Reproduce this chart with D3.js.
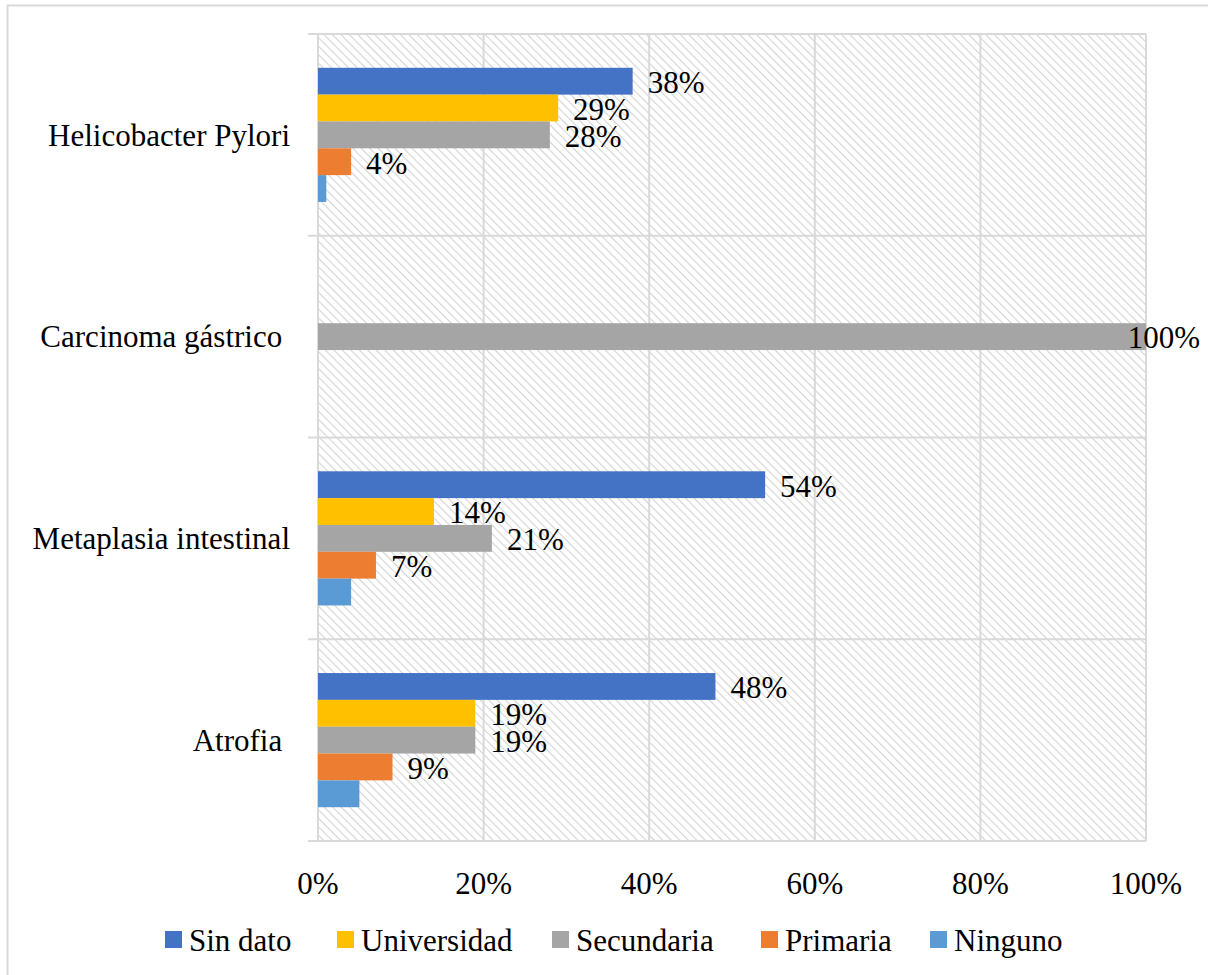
<!DOCTYPE html>
<html><head><meta charset="utf-8">
<script src="https://cdn.jsdelivr.net/npm/d3@7"></script>
<style>body{margin:0;background:#fff}svg{display:block}</style>
</head><body>
<script>
const categories = ["Helicobacter Pylori", "Carcinoma gástrico ", "Metaplasia intestinal", "Atrofia "];
const seriesNames = ["Sin dato", "Universidad", "Secundaria", "Primaria", "Ninguno"];
const seriesColors = ["#4472C4", "#FFC000", "#A5A5A5", "#ED7D31", "#5B9BD5"];
const sinDato     = [38, 0, 54, 48];
const universidad = [29, 0, 14, 19];
const secundaria  = [28, 100, 21, 19];
const primaria    = [4, 0, 7, 9];
const ninguno     = [1, 0, 4, 5];
const showLabel = {"Sin dato": true, "Universidad": true, "Secundaria": true, "Primaria": true, "Ninguno": false};
const xTicks = [0, 20, 40, 60, 80, 100];

const seriesValues = [sinDato, universidad, secundaria, primaria, ninguno];
const W = 1208, H = 975;
const svg = d3.select("body").append("svg").attr("width", W).attr("height", H);
const font = "'Liberation Serif','Times New Roman',serif";
const fs = 31;

// outer border
svg.append("rect").attr("x", 7.5).attr("y", 5.5).attr("width", W + 10).attr("height", H + 10)
  .attr("fill", "#fff").attr("stroke", "#d9d9d9").attr("stroke-width", 2);

const m = {left: 318, right: 1146, top: 34, bottom: 841};
const x = d3.scaleLinear().domain([0, 100]).range([m.left, m.right]);
const y0 = d3.scaleBand().domain(categories).range([m.top, m.bottom]).paddingInner(0).paddingOuter(0);
const groupH = y0.bandwidth() * 0.665;
const y1b = d3.scaleBand().domain(seriesNames).range([(y0.bandwidth() - groupH) / 2, (y0.bandwidth() + groupH) / 2]);

// hatch pattern
const defs = svg.append("defs");
const pat = defs.append("pattern").attr("id", "hatch").attr("patternUnits", "userSpaceOnUse")
  .attr("width", 6).attr("height", 6).attr("patternTransform", "rotate(-45)");
pat.append("rect").attr("width", 6).attr("height", 6).attr("fill", "#fff");
pat.append("line").attr("x1", 0).attr("y1", 0).attr("x2", 0).attr("y2", 6)
  .attr("stroke", "#d4d4d4").attr("stroke-width", 2.2);

svg.append("rect").attr("x", m.left).attr("y", m.top).attr("width", m.right - m.left)
  .attr("height", m.bottom - m.top).attr("fill", "url(#hatch)");

// vertical gridlines
svg.append("g").selectAll("line").data(xTicks).join("line")
  .attr("x1", d => x(d)).attr("x2", d => x(d)).attr("y1", m.top).attr("y2", m.bottom)
  .attr("stroke", "#d9d9d9").attr("stroke-width", 2);

// horizontal category boundaries
const bounds = categories.map(c => y0(c)).concat([m.bottom]);
svg.append("g").selectAll("line").data(bounds).join("line")
  .attr("x1", m.left - 10).attr("x2", m.right).attr("y1", d => d).attr("y2", d => d)
  .attr("stroke", "#d9d9d9").attr("stroke-width", 2);

// bars
const data = [];
categories.forEach((c, ci) => seriesNames.forEach((s, si) => {
  data.push({cat: c, ser: s, val: seriesValues[si][ci], color: seriesColors[si]});
}));
const g = svg.append("g");
g.selectAll("rect").data(data.filter(d => d.val > 0)).join("rect")
  .attr("x", x(0)).attr("y", d => y0(d.cat) + y1b(d.ser))
  .attr("width", d => x(d.val) - x(0)).attr("height", y1b.bandwidth())
  .attr("fill", d => d.color);

// labels
g.selectAll("text").data(data.filter(d => d.val > 0 && showLabel[d.ser])).join("text")
  .attr("x", d => d.val >= 95 ? 1200 : x(d.val) + 15)
  .attr("text-anchor", d => d.val >= 95 ? "end" : "start")
  .attr("y", d => y0(d.cat) + y1b(d.ser) + y1b.bandwidth() / 2 + 1)
  .attr("dy", "0.35em")
  .attr("font-family", font).attr("font-size", fs).attr("fill", "#000")
  .text(d => d.val + "%");

// category labels
svg.append("g").selectAll("text").data(categories).join("text")
  .attr("x", 290).attr("y", d => y0(d) + y0.bandwidth() / 2).attr("dy", "0.35em")
  .attr("text-anchor", "end").attr("font-family", font).attr("font-size", fs)
  .style("white-space", "pre").attr("fill", "#000")
  .text(d => d);

// x tick labels
svg.append("g").selectAll("text").data(xTicks).join("text")
  .attr("x", d => x(d)).attr("y", 883).attr("dy", "0.35em").attr("text-anchor", "middle")
  .attr("font-family", font).attr("font-size", fs).attr("fill", "#000")
  .text(d => d + "%");

// legend
const legendX = [165, 337, 552, 761, 930];
const lg = svg.append("g").selectAll("g").data(seriesNames).join("g")
  .attr("transform", (d, i) => `translate(${legendX[i]},940)`);
lg.append("rect").attr("x", 0).attr("y", -9).attr("width", 17).attr("height", 17)
  .attr("fill", (d, i) => seriesColors[i]);
lg.append("text").attr("x", 24).attr("y", 0).attr("dy", "0.35em")
  .attr("font-family", font).attr("font-size", fs).attr("fill", "#000").text(d => d);
</script>
</body></html>
